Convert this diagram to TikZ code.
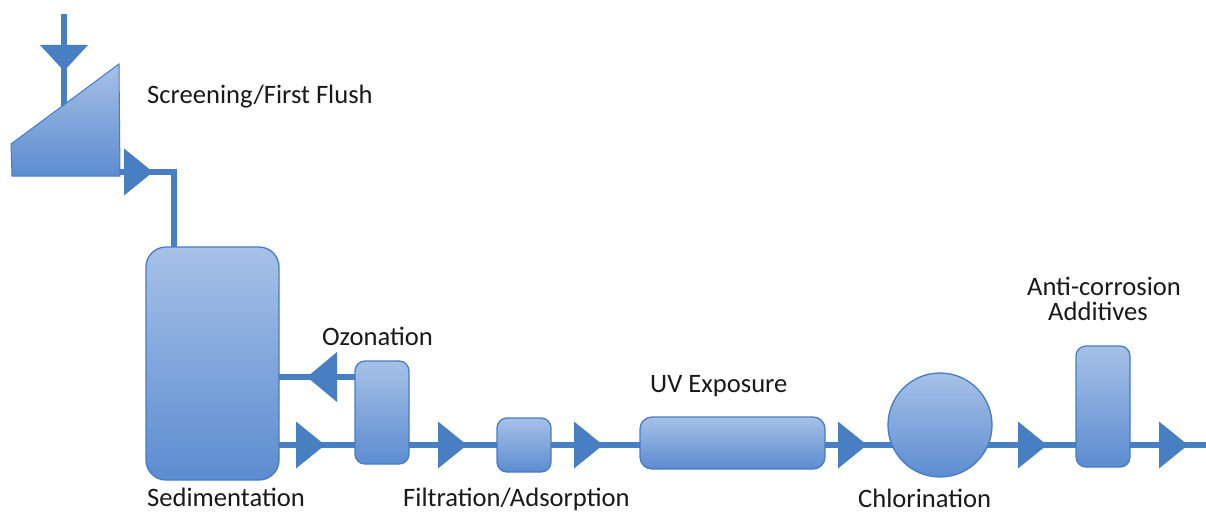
\documentclass[tikz,border=0pt]{standalone}
\usepackage{fontspec}
\setmainfont{Carlito}
\usetikzlibrary{backgrounds}
\definecolor{linec}{RGB}{72,126,194}
\definecolor{topc}{RGB}{166,193,231}
\definecolor{botc}{RGB}{92,140,208}
\definecolor{edgec}{RGB}{70,124,196}
\definecolor{txtc}{RGB}{25,25,25}
\begin{document}
\begin{tikzpicture}[x=1pt,y=-1pt,
  box/.style={draw=edgec, line width=1.3pt, rounded corners=10pt, top color=topc, bottom color=botc, inner sep=0pt},
  pipe/.style={draw=linec, line width=6.5pt},
  lbl/.style={inner sep=0pt, anchor=base west, text=txtc, font=\fontsize{26.6}{23}\selectfont},
  arrR/.pic={\fill[linec] (0,0) -- (-29,-23.5) -- (-29,23.5) -- cycle;},
  arrL/.pic={\fill[linec] (0,0) -- (30,-25) -- (30,25) -- cycle;},
  arrD/.pic={\fill[linec] (0,0) -- (-24,-26) -- (24,-26) -- cycle;}]
\useasboundingbox (0,0) rectangle (1206,519);

% coordinates
\coordinate (rowA) at (0,377);
\coordinate (rowB) at (0,445);
\coordinate (in) at (64,14);
\coordinate (inEnd) at (64,110);
\coordinate (tOut) at (110,172);
\coordinate (bend) at (174,172);
\coordinate (out) at (1206,445);

% screening trapezoid
\coordinate (tA) at (11,144);
\coordinate (tB) at (119,64);
\coordinate (tC) at (120,176);
\coordinate (tD) at (12,176);
\shade[top color=topc, bottom color=botc, draw=edgec, line width=1pt] (tA) -- (tB) -- (tC) -- (tD) -- cycle;

% units
\node[box, rounded corners=20pt, minimum width=133pt, minimum height=233pt] (sed) at (212.5,363.5) {};
\node[box, minimum width=54pt, minimum height=103pt] (ozo) at (382,412.5) {};
\node[box, minimum width=54pt, minimum height=54pt] (filt) at (524,445) {};
\node[box, rounded corners=12pt, minimum width=185pt, minimum height=52pt] (uv) at (732.5,443) {};
\node[box, circle, minimum size=104pt] (chl) at (940,425) {};
\node[box, minimum width=54pt, minimum height=121pt] (anti) at (1103,406.5) {};

% pipes
\begin{scope}[on background layer]
\draw[pipe] (in) -- (inEnd);
\draw[pipe] (tOut) -- (bend) -- (sed.center -| bend);
\draw[pipe] (ozo.center |- rowA) -- (sed.center |- rowA);
\draw[pipe] (sed.center |- rowB) -- (ozo.center |- rowB);
\draw[pipe] (ozo.center |- rowB) -- (filt.center);
\draw[pipe] (filt.center) -- (uv.center |- rowB);
\draw[pipe] (uv.center |- rowB) -- (chl.center |- rowB);
\draw[pipe] (chl.center |- rowB) -- (anti.center |- rowB);
\draw[pipe] (anti.center |- rowB) -- (out);
\end{scope}

% flow arrows
\pic at (64,71) {arrD};
\pic at (153,172) {arrR};
\pic at (307,377) {arrL};
\pic at (325,445) {arrR};
\pic at (467,445) {arrR};
\pic at (603,445) {arrR};
\pic at (867,445) {arrR};
\pic at (1047,445) {arrR};
\pic at (1188,445) {arrR};

% labels
\node[lbl] (lscr) at (147,103) {Screening/First Flush};
\node[lbl] (lozo) at (322,345) {Ozonation};
\node[lbl] (lsed) at (147,506) {Sedimentation};
\node[lbl] (lfilt) at (403,506) {Filtration/Adsorption};
\node[lbl] (luv) at (650,392) {UV Exposure};
\node[lbl] (lchl) at (858,507) {Chlorination};
\node[lbl, anchor=base] (lanti1) at (1104,295) {Anti-corrosion};
\node[lbl, anchor=base] (lanti2) at (1098,320) {Additives};
\end{tikzpicture}
\end{document}
